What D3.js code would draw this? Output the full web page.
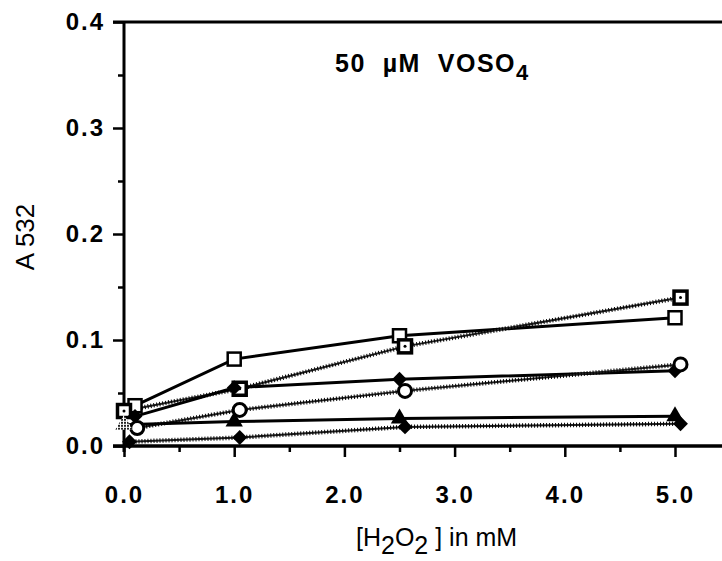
<!DOCTYPE html>
<html>
<head>
<meta charset="utf-8">
<script src="https://cdn.jsdelivr.net/npm/d3@7"></script>
<style>
  html, body { margin: 0; padding: 0; background: #fff; }
  svg { display: block; }
</style>
</head>
<body>
<div id="chart"></div>
<script>
// data (x in mM H2O2, y = A 532)
const xTicks = [0, 1, 2, 3, 4, 5];
const xMinor = [0.5, 1.5, 2.5, 3.5, 4.5];
const yTicks = [0, 0.1, 0.2, 0.3, 0.4];
const yMinor = [0.05, 0.15, 0.25, 0.35];

const squareX = [0.1, 1, 2.5, 5];
const squareY = [0.038, 0.082, 0.104, 0.121];
const dotSquareX = [0, 1.05, 2.55, 5.05];
const dotSquareY = [0.033, 0.054, 0.094, 0.140];
const diamondX = [0.1, 1, 2.5, 5];
const diamondY = [0.028, 0.055, 0.063, 0.071];
const circleX = [0.12, 1.05, 2.55, 5.05];
const circleY = [0.017, 0.034, 0.052, 0.077];
const triangleX = [0, 1, 2.5, 5];
const triangleY = [0.020, 0.023, 0.026, 0.028];
const dotDiamondX = [0.05, 1.05, 2.55, 5.05];
const dotDiamondY = [0.004, 0.008, 0.018, 0.021];

const width = 722, height = 561;
const svg = d3.select("#chart").append("svg")
    .attr("width", width)
    .attr("height", height);

const x = d3.scaleLinear().domain([0, 5]).range([124, 675]);
const y = d3.scaleLinear().domain([0, 0.4]).range([446, 22]);

const boldFont = "'Liberation Sans', Arial, sans-serif";

// stipple pattern for the overlapped start marker
const defs = svg.append("defs");
const pat = defs.append("pattern")
    .attr("id", "stip")
    .attr("width", 3).attr("height", 3)
    .attr("patternUnits", "userSpaceOnUse");
pat.append("rect").attr("width", 3).attr("height", 3).attr("fill", "#fff");
pat.append("rect").attr("width", 2).attr("height", 2).attr("fill", "#222");

// frame: top line and axis lines run off the right edge
svg.append("line")
    .attr("x1", 113).attr("x2", width)
    .attr("y1", y(0.4)).attr("y2", y(0.4))
    .attr("stroke", "#000").attr("stroke-width", 3);

// axes
svg.append("g")
    .attr("transform", `translate(0,${y(0)})`)
    .call(d3.axisBottom(x).tickValues(xTicks).tickSize(11).tickPadding(29).tickFormat(d3.format(".1f")));
svg.append("g")
    .attr("transform", `translate(0,${y(0)})`)
    .call(d3.axisBottom(x).tickValues(xMinor).tickSize(6).tickFormat(""));

svg.append("g")
    .attr("transform", `translate(${x(0)},0)`)
    .call(d3.axisLeft(y).tickValues(yTicks).tickSize(11).tickPadding(8).tickFormat(d3.format(".1f")));
svg.append("g")
    .attr("transform", `translate(${x(0)},0)`)
    .call(d3.axisLeft(y).tickValues(yMinor).tickSize(6).tickFormat(""));

svg.selectAll(".domain").remove();
svg.selectAll(".tick line").attr("stroke", "#000").attr("stroke-width", 2.5);

svg.append("line")
    .attr("x1", 113).attr("x2", width)
    .attr("y1", y(0)).attr("y2", y(0))
    .attr("stroke", "#000").attr("stroke-width", 3.5);
svg.append("line")
    .attr("x1", x(0)).attr("x2", x(0))
    .attr("y1", y(0.4)).attr("y2", y(0) + 6)
    .attr("stroke", "#000").attr("stroke-width", 3);

svg.selectAll(".tick text")
    .attr("fill", "#000")
    .style("font-family", boldFont)
    .style("font-weight", "bold")
    .style("font-size", "24px")
    .style("letter-spacing", "2px");

// series
const series = [
    { xs: squareX, ys: squareY, dotted: false, shape: "square" },
    { xs: dotSquareX, ys: dotSquareY, dotted: true, shape: "dotsquare" },
    { xs: diamondX, ys: diamondY, dotted: false, shape: "diamond" },
    { xs: circleX, ys: circleY, dotted: true, shape: "circle" },
    { xs: triangleX, ys: triangleY, dotted: false, shape: "triangle" },
    { xs: dotDiamondX, ys: dotDiamondY, dotted: true, shape: "diamond" }
];

const line = d3.line().x(d => x(d[0])).y(d => y(d[1]));
const plot = svg.append("g");

series.forEach(s => {
    const pts = s.xs.map((v, i) => [v, s.ys[i]]);
    if (s.dotted) {
        plot.append("path").attr("d", line(pts))
            .attr("fill", "none").attr("stroke", "#222").attr("stroke-width", 2);
        plot.append("path").attr("d", line(pts))
            .attr("fill", "none").attr("stroke", "#000").attr("stroke-width", 4.5)
            .attr("stroke-dasharray", "1 2");
    } else {
        plot.append("path").attr("d", line(pts))
            .attr("fill", "none").attr("stroke", "#000").attr("stroke-width", 3);
    }
});

const sym = {
    diamond: d3.symbol().type(d3.symbolSquare).size(110),
    triangle: d3.symbol().type(d3.symbolTriangle).size(130)
};

series.forEach(s => {
    s.xs.forEach((v, i) => {
        const cx = x(v), cy = y(s.ys[i]);
        const g = plot.append("g").attr("transform", `translate(${cx},${cy})`);
        if (s.shape === "square") {
            g.append("rect").attr("x", -6.5).attr("y", -6.5).attr("width", 13).attr("height", 13)
                .attr("fill", "#fff").attr("stroke", "#000").attr("stroke-width", 2.5);
        } else if (s.shape === "dotsquare") {
            g.append("rect").attr("x", -6.5).attr("y", -6.5).attr("width", 13).attr("height", 13)
                .attr("fill", "#fff").attr("stroke", "#000").attr("stroke-width", 3.5);
            g.append("circle").attr("r", 1.5).attr("fill", "#000");
        } else if (s.shape === "circle") {
            g.append("circle").attr("r", 6.5)
                .attr("fill", "#fff").attr("stroke", "#000").attr("stroke-width", 3);
        } else if (s.shape === "diamond") {
            g.append("path").attr("d", sym.diamond()).attr("transform", "rotate(45)")
                .attr("fill", "#000");
        } else if (s.shape === "triangle") {
            g.append("path").attr("d", sym.triangle())
                .attr("fill", i === 0 ? "url(#stip)" : "#000");
        }
    });
});

// title inside plot
svg.append("text")
    .attr("x", 335).attr("y", 72)
    .attr("xml:space", "preserve")
    .style("font-family", boldFont)
    .style("font-weight", "bold")
    .style("font-size", "25px")
    .style("letter-spacing", "1.5px")
    .html('50  µM  VOSO<tspan dy="8" font-size="22">4</tspan>');

// y axis title
svg.append("text")
    .attr("transform", "translate(34,237) rotate(-90)")
    .attr("text-anchor", "middle")
    .style("font-family", boldFont)
    .style("font-size", "26px")
    .text("A 532");

// x axis title
svg.append("text")
    .attr("x", 356).attr("y", 546)
    .style("font-family", "'Liberation Sans Narrow', 'Liberation Sans', sans-serif")
    .style("font-size", "25px")
    .html('[H<tspan dy="8">2</tspan><tspan dy="-8">O</tspan><tspan dy="8">2</tspan><tspan dy="-8"> ] in mM</tspan>');
</script>
</body>
</html>
